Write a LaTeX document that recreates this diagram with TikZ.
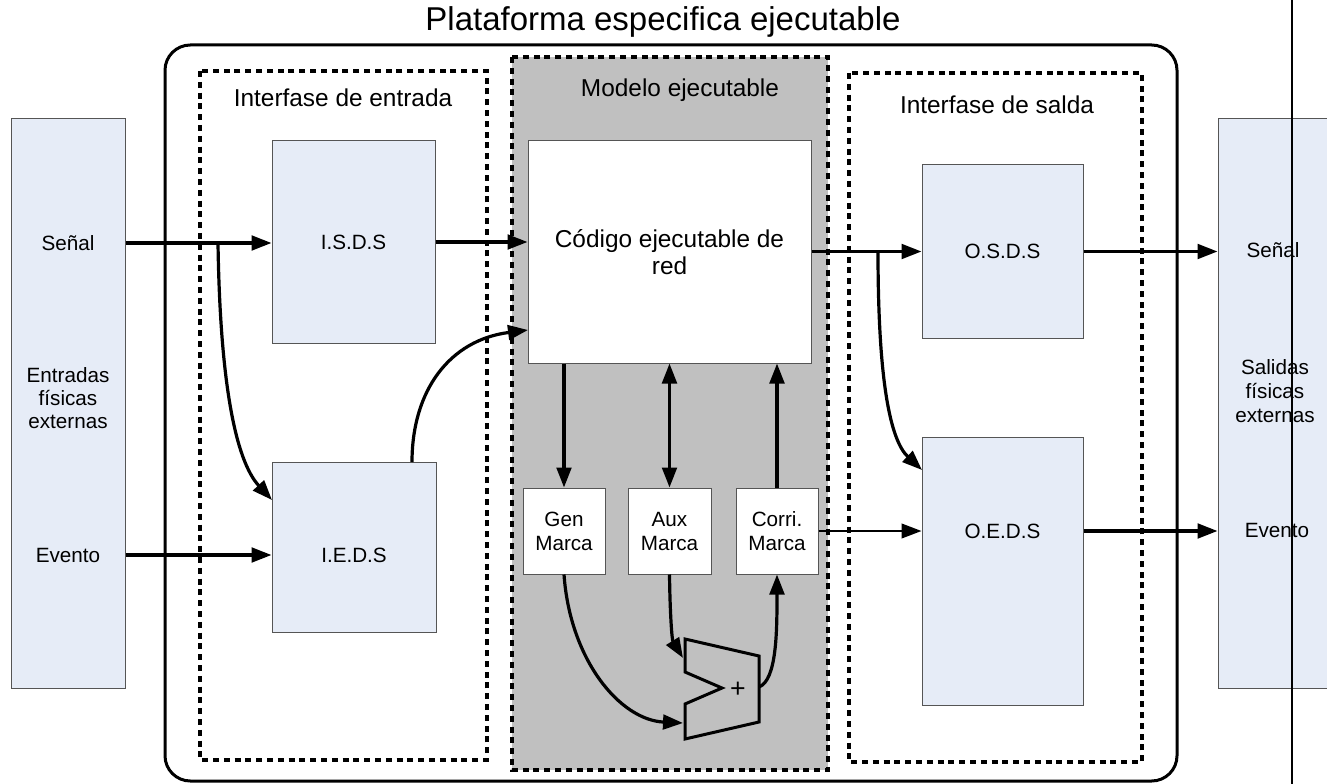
\documentclass[tikz,border=0pt]{standalone}
\usepackage{fontspec}
\setmainfont{Liberation Sans}
\usetikzlibrary{arrows.meta}
\definecolor{panelblue}{RGB}{230,236,247}
\definecolor{modelgray}{RGB}{192,192,192}
\definecolor{edgegray}{RGB}{85,85,85}
\tikzset{
  lbl/.style={font=\fontsize{15.5}{17.5}\selectfont, align=center, inner sep=0pt},
  head/.style={font=\fontsize{18.3}{21}\selectfont, inner sep=0pt},
  panel/.style={draw=edgegray, line width=0.75pt, fill=panelblue, inner sep=0pt},
  blk/.style={draw=edgegray, line width=0.75pt, fill=panelblue, inner sep=0pt,
    align=center, font=\fontsize{15.5}{17.5}\selectfont},
  wblk/.style={draw=edgegray, line width=0.75pt, fill=white, inner sep=0pt,
    align=center, font=\fontsize{15.5}{18}\selectfont},
  zone/.style={line width=2.5pt, dash pattern=on 4.5pt off 3.6pt},
  conn/.style={line width=2.4pt, -{Triangle[length=15pt,width=11pt]}},
  thinconn/.style={line width=1.5pt, -{Triangle[length=15pt,width=11pt]}},
  dconn/.style={line width=2.4pt, {Triangle[length=15pt,width=11pt]}-{Triangle[length=15pt,width=11pt]}},
}
\begin{document}
\begin{tikzpicture}[x=0.75pt,y=-0.75pt]
\useasboundingbox (0,0) rectangle (1327,784);

% title and platform frame
\node[font=\fontsize{24.75}{28}\selectfont, inner sep=0pt] (title) at (663,22) {Plataforma especifica ejecutable};
\draw[line width=2.25pt, rounded corners=19pt] (165,45) rectangle (1177,781);

% interface zones and executable model
\draw[zone] (200,71) rectangle (487,760);
\draw[zone, fill=modelgray] (512,57) rectangle (828,770);
\draw[zone] (849,73) rectangle (1142,762);
\node[head] (hin) at (343,98) {Interfase de entrada};
\node[head] (hmod) at (680,90) {Modelo ejecutable};
\node[head] (hout) at (997,105) {Interfase de salda};

% external panels
\node[panel, minimum width=85.5pt, minimum height=426.75pt] (inpanel) at (68,403.5) {};
\node[panel, minimum width=85.5pt, minimum height=426.75pt] (outpanel) at (1275,403.5) {};
\node[lbl] (sin) at (68,243) {Señal};
\node[lbl, font=\fontsize{15.5}{17.3}\selectfont] (ein) at (68,398) {Entradas\\físicas\\externas};
\node[lbl] (evin) at (68,555) {Evento};
\node[lbl] (sout) at (1273,250) {Señal};
\node[lbl, font=\fontsize{15.5}{18}\selectfont] (eout) at (1275,391) {Salidas\\físicas\\externas};
\node[lbl] (evout) at (1277,530) {Evento};

% interface blocks
\node[blk, minimum width=122.25pt, minimum height=151.5pt] (isds) at (353.5,242) {I.S.D.S};
\node[blk, minimum width=123pt, minimum height=127.5pt] (ieds) at (354,547) {};
\node[lbl] (iedsl) at (354,555) {I.E.D.S};
\node[blk, minimum width=120.75pt, minimum height=129.75pt] (osds) at (1002.5,251.5) {O.S.D.S};
\node[blk, minimum width=120.75pt, minimum height=201pt] (oeds) at (1002.5,571) {};
\node[lbl] (oedsl) at (1002.5,531) {O.E.D.S};

% model blocks
\node[wblk, minimum width=212.25pt, minimum height=166.5pt,
  font=\fontsize{18.3}{20.3}\selectfont] (codigo) at (669.5,252) {Código ejecutable de\\red};
\node[wblk, minimum width=61.5pt, minimum height=64.5pt] (gen) at (564,531) {Gen\\Marca};
\node[wblk, minimum width=62.25pt, minimum height=64.5pt] (aux) at (669.5,531) {Aux\\Marca};
\node[wblk, minimum width=61.5pt, minimum height=64.5pt] (corri) at (777,531) {Corri.\\Marca};

% adder
\draw[line width=2.25pt, line join=miter]
  (685,639) -- (759,656) -- (759,722) -- (685,739) -- (685,704) -- (722,688) -- (685,672) -- cycle;
\node[font=\fontsize{20}{22}\selectfont, inner sep=0pt] (plus) at (738,690) {+};
\coordinate (addin1) at (683,658);
\coordinate (addin2) at (683,723);
\coordinate (addout) at (759,687);

% input side connectors
\coordinate (sj) at (218,243);
\coordinate (iedsin) at (272,500);
\coordinate (iedsup) at (412,462);
\coordinate (codin) at (528,330);
\draw[conn] (sin -| inpanel.east) -- (sin -| isds.west);
\draw[conn] (sj) .. controls (220,380) and (235,460) .. (iedsin);
\draw[conn] (evin -| inpanel.east) -- (evin -| ieds.west);
\draw[conn] (isds.east) -- (isds.east -| codigo.west);
\draw[conn] (iedsup) .. controls (412,390) and (450,340) .. (codin);

% model connectors
\draw[conn] (gen.north |- codigo.south) -- (gen.north);
\draw[dconn] (aux.north |- codigo.south) -- (aux.north);
\draw[conn] (corri.north) -- (corri.north |- codigo.south);
\draw[conn] (gen.south) .. controls (570,660) and (620,720) .. (addin2);
\draw[conn] (aux.south) .. controls (670,615) and (672,640) .. (addin1);
\draw[conn] (addout) .. controls (777,680) and (777,630) .. (corri.south);

% output side connectors
\coordinate (oj) at (878,251.5);
\coordinate (oedsin) at (922,470);
\draw[conn] (codigo.east |- osds) -- (osds.west);
\draw[conn] (oj) .. controls (878,380) and (890,440) .. (oedsin);
\draw[thinconn] (corri.east) -- (corri.east -| oeds.west);
\draw[conn] (osds.east) -- (osds.east -| outpanel.west);
\draw[conn] (oedsl -| oeds.east) -- (oedsl -| outpanel.west);

% vertical rule at the right
\coordinate (vt) at (1292,0);
\coordinate (vb) at (1292,784);
\draw[line width=0.9pt] (vt) -- (vb);
\end{tikzpicture}
\end{document}
